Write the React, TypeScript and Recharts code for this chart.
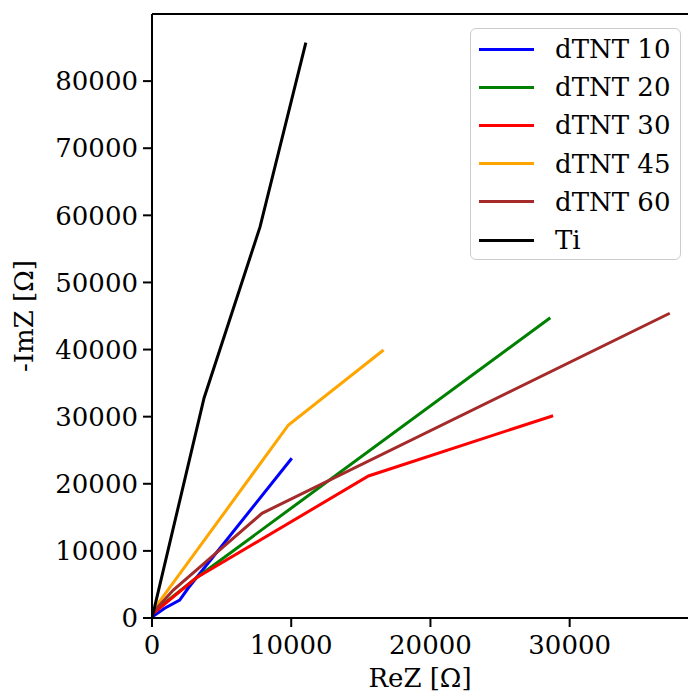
import { LineChart, Line, XAxis, YAxis, ReferenceLine } from "recharts";

// Nyquist-style curves, values
const tiRe = [0, 3740, 7760, 11050];
const tiIm = [0, 32790, 58270, 85740];

const d10Re = [80, 910, 1990, 2590, 10040];
const d10Im = [250, 1450, 2680, 4430, 23800];

const d20Re = [100, 3200, 28610];
const d20Im = [900, 6000, 44750];

const d30Re = [100, 3160, 15550, 28810];
const d30Im = [700, 5960, 21160, 30140];

const d45Re = [100, 9800, 16630];
const d45Im = [1200, 28760, 39940];

const d60Re = [100, 1530, 7900, 37190];
const d60Im = [900, 4170, 15600, 45410];

const xTicks = [0, 10000, 20000, 30000];
const yTicks = [0, 10000, 20000, 30000, 40000, 50000, 60000, 70000, 80000];

const FONT = "'DejaVu Serif', serif";

const toPoints = (re: number[], im: number[]) => re.map((x, i) => ({ x, y: im[i] }));

const series = [
  { name: "dTNT 10", color: "#0000ff", data: toPoints(d10Re, d10Im) },
  { name: "dTNT 20", color: "#008000", data: toPoints(d20Re, d20Im) },
  { name: "dTNT 30", color: "#ff0000", data: toPoints(d30Re, d30Im) },
  { name: "dTNT 45", color: "#ffa500", data: toPoints(d45Re, d45Im) },
  { name: "dTNT 60", color: "#a52a2a", data: toPoints(d60Re, d60Im) },
  { name: "Ti", color: "#000000", data: toPoints(tiRe, tiIm) },
];

const tickStyle = { fontSize: 26, fontFamily: FONT, fill: "#000" };

// matplotlib-like legend box, overlaid on the axes
function LegendBox() {
  return (
    <div
      style={{
        position: "absolute",
        left: 470,
        top: 28,
        background: "rgba(255,255,255,0.8)",
        border: "1px solid #cccccc",
        borderRadius: 6,
        width: 209,
        paddingTop: 1,
        fontFamily: FONT,
        fontSize: 26,
        color: "#000",
      }}
    >
      {series.map((s) => (
        <div key={s.name} style={{ display: "flex", alignItems: "center", height: 38.2 }}>
          <div style={{ marginLeft: 8, width: 55, height: 3, background: s.color }} />
          <span style={{ marginLeft: 21, lineHeight: 1 }}>{s.name}</span>
        </div>
      ))}
    </div>
  );
}

export default function App() {
  return (
    <div
      style={{
        position: "absolute",
        left: 0,
        top: 0,
        width: 688,
        height: 698,
        overflow: "hidden",
        background: "#fff",
      }}
    >
      <LineChart width={688} height={698} margin={{ top: 14, right: 0, left: 0, bottom: 0 }}>
        <XAxis
          type="number"
          dataKey="x"
          domain={[0, 38500]}
          ticks={xTicks}
          interval={0}
          allowDataOverflow
          height={80}
          tick={tickStyle}
          tickSize={9}
          tickMargin={9}
          stroke="#000"
          strokeWidth={2}
          label={{
            value: "ReZ [Ω]",
            position: "insideBottom",
            offset: 11,
            style: { fontSize: 26, fontFamily: FONT, fill: "#000" },
          }}
        />
        <YAxis
          type="number"
          dataKey="y"
          domain={[0, 90000]}
          ticks={yTicks}
          interval={0}
          allowDataOverflow
          width={152}
          tick={tickStyle}
          tickSize={9}
          tickMargin={5}
          stroke="#000"
          strokeWidth={2}
          label={{
            content: () => (
              <text
                x={33}
                y={316}
                transform="rotate(-90 33 316)"
                textAnchor="middle"
                style={{ fontSize: 26, fontFamily: FONT, fill: "#000" }}
              >
                -ImZ [Ω]
              </text>
            ),
          }}
        />
        <ReferenceLine y={90000} stroke="#000" strokeWidth={2} />
        {series.map((s) => (
          <Line
            key={s.name}
            data={s.data}
            dataKey="y"
            name={s.name}
            type="linear"
            stroke={s.color}
            strokeWidth={3}
            dot={false}
            isAnimationActive={false}
          />
        ))}
      </LineChart>
      <LegendBox />
    </div>
  );
}
